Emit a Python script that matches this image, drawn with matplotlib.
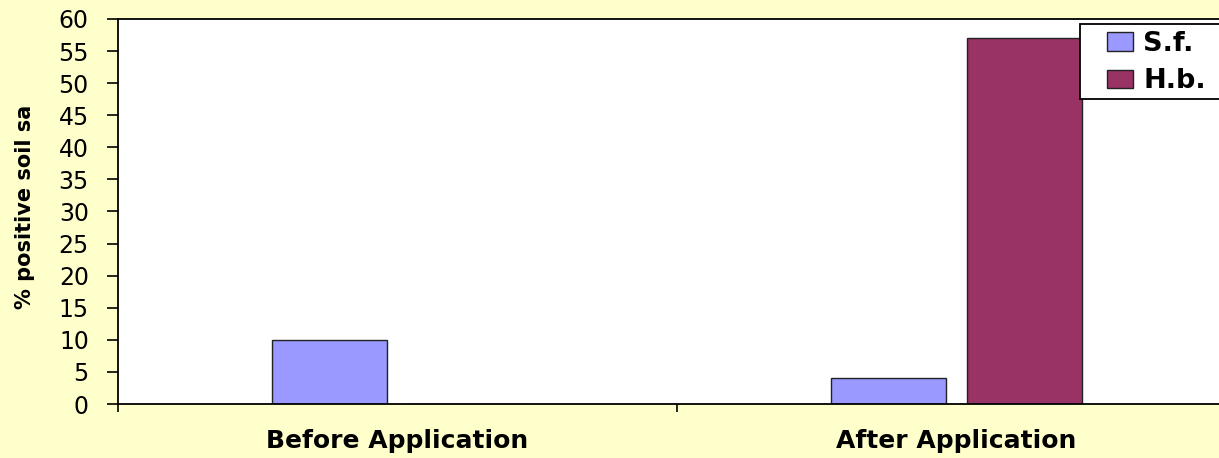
import matplotlib.pyplot as plt
from matplotlib.patches import Rectangle
import numpy as np

plt.rcParams['font.family'] = ['DejaVu Sans']

categories = ['Before Application', 'After Application']
series_names = ['S.f.', 'H.b.']
sf_values = [10, 4]
hb_values = [0, 57]
yticks = list(range(0, 61, 5))

bg = '#FFFFCC'
fig = plt.figure(figsize=(12.19, 4.58), dpi=100, facecolor=bg)
# plot area runs a bit past the right edge of the picture, as in the original
ax = fig.add_axes([118 / 1219, 54 / 458, 1118 / 1219, 385 / 458])
ax.set_facecolor('white')

x = np.arange(len(categories))
w = 115 / 559
off = 68 / 559
ax.bar(x - off, sf_values, w, color='#9999FF', edgecolor='#222222', linewidth=1, label=series_names[0])
ax.bar(x + off, hb_values, w, color='#993366', edgecolor='#222222', linewidth=1, label=series_names[1])

ax.set_xlim(-0.5, 1.5)
ax.set_ylim(0, 60)
ax.set_yticks(yticks)
ax.set_xticks([-0.5, 0.5, 1.5])
ax.set_xticklabels([])
ax.set_xticks(x, minor=True)
ax.set_xticklabels(categories, minor=True, fontsize=18, fontweight='bold')
ax.tick_params(axis='x', which='minor', length=0, pad=18)
ax.tick_params(axis='x', which='major', length=6, width=1.2, direction='out')
ax.tick_params(axis='y', length=8, width=1.2, labelsize=17, pad=13)
for s in ['left', 'bottom', 'top']:
    ax.spines[s].set_linewidth(1.3)
ax.spines['right'].set_visible(False)

fig.text(25 / 1219, 1 - 207 / 458, '% positive soil sa', rotation=90, fontsize=15,
         fontweight='bold', ha='center', va='center')

# legend frame (Excel pads the left side more than the top)
fig.patches.append(Rectangle((1080 / 1219, 1 - 99 / 458), 200 / 1219, 75 / 458,
                             transform=fig.transFigure, facecolor='white',
                             edgecolor='black', linewidth=1.3, zorder=2))
handles, labels = ax.get_legend_handles_labels()
fig.legend(handles, labels, loc='upper left', bbox_to_anchor=(1107 / 1219, 1 - 31 / 458),
           frameon=False, prop={'size': 19.5, 'weight': 'bold'}, handlelength=0.97,
           handleheight=0.66, handletextpad=0.37, borderpad=0, labelspacing=0.42,
           borderaxespad=0)

fig.savefig('out.png', dpi=100, facecolor=bg)
